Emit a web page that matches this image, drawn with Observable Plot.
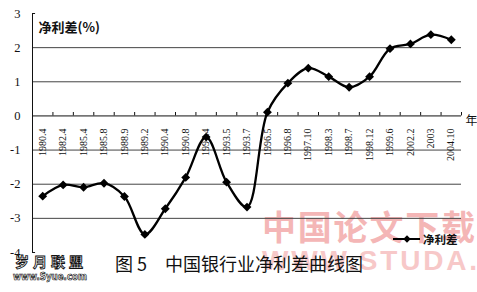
<!DOCTYPE html>
<html>
<head>
<meta charset="utf-8">
<script src="https://cdn.jsdelivr.net/npm/d3@7"></script>
<script src="https://cdn.jsdelivr.net/npm/@observablehq/plot@0.6"></script>
<style>
  html, body { margin: 0; padding: 0; background: #fff; }
  svg { display: block; }
</style>
</head>
<body>
<div id="chart"></div>
<script>
// ---- data ----
const categories = ["1980.4","1982.4","1985.4","1985.8","1988.9","1989.2","1990.4","1990.8","1991.4","1993.5","1993.7",
  "1996.5","1996.8","1997.10","1998.3","1998.7","1998.12","1999.6","2002.2","2003","2004.10"];
const netSpread = [-2.35,-2.02,-2.09,-1.97,-2.36,-3.47,-2.72,-1.80,-0.62,-1.94,-2.67,
  0.11,0.96,1.40,1.15,0.84,1.15,1.97,2.11,2.38,2.23];
const yTicks = [3,2,1,0,-1,-2,-3,-4];
const gridValues = [2,1,-1,-2,-3];
const stubValues = [3,-4];
const seriesName = "净利差";
const yTitle = "净利差(%)";
const xUnit = "年";
const caption = "图 5\u3000中国银行业净利差曲线图";

const rows = categories.map((c, i) => ({i, c, v: netSpread[i]}));
const boundaries = categories.map((c, i) => i + 0.5);
const cjk = "Noto Sans CJK SC";
const serif = "Liberation Serif";

const chart = Plot.plot({
  width: 477, height: 292,
  marginLeft: 32, marginRight: 16, marginTop: 13, marginBottom: 40,
  style: {background: "#fff", color: "#111"},
  x: {type: "linear", domain: [-0.5, categories.length - 0.5], axis: null},
  y: {domain: [-4, 3], axis: null},
  marks: [
    Plot.ruleY(gridValues, {stroke: "#444", strokeWidth: 1}),
    Plot.ruleY([0], {stroke: "#111", strokeWidth: 1}),
    Plot.ruleX([-0.5], {y1: -4, y2: 3, stroke: "#111", strokeWidth: 1}),
    Plot.ruleY(stubValues, {x1: -0.5, x2: -0.35, stroke: "#111"}),
    Plot.ruleX(boundaries, {y1: 0, y2: 0.1, stroke: "#111"}),
    Plot.axisY({ticks: yTicks, tickSize: 0, tickPadding: 12, label: null, tickFormat: d => String(d), fontSize: 12.5, fontFamily: serif, ariaLabel: "y-axis"}),
    Plot.text(rows, {x: "i", y: 0, text: "c", rotate: -90, textAnchor: "end", dy: 12.5, fontSize: 10, fontFamily: serif, fill: "#111"}),
    Plot.line(rows, {x: "i", y: "v", curve: "catmull-rom", stroke: "#000", strokeWidth: 2.3}),
    Plot.dot(rows, {x: "i", y: "v", symbol: "diamond2", r: 4, fill: "#000", stroke: "none"}),
    Plot.text([yTitle], {frameAnchor: "top-left", dx: 6, dy: 9, textAnchor: "start", fontWeight: "bold", fontSize: 13, fontFamily: cjk, fill: "#111"}),
    Plot.text([xUnit], {x: categories.length - 0.5, y: 0, dx: 4, dy: 5, textAnchor: "start", fontSize: 12, fontFamily: cjk, fill: "#111"}),
    Plot.text([caption], {frameAnchor: "bottom", dx: -8, dy: 18, fontSize: 18, fontFamily: cjk, fill: "#111"})
  ]
});

document.getElementById("chart").appendChild(chart);

const svg = d3.select(chart);
// serif digits on the y axis
svg.selectAll("g[aria-label^='y-axis'] text").attr("font-family", serif).style("font-family", serif);

// ---- watermarks (behind chart) and legend ----
const wm = svg.insert("g", ":first-child").attr("text-anchor", "start");
wm.append("text").text("中国论文下载")
  .attr("x", 262).attr("y", 225).attr("dominant-baseline", "central")
  .attr("textLength", 213).attr("lengthAdjust", "spacing")
  .attr("font-family", cjk).attr("font-weight", "bold").attr("font-size", 34)
  .attr("fill", "#f4b6b6");
wm.append("text").text("WWW.STUDA.")
  .attr("x", 262).attr("y", 270)
  .attr("textLength", 215).attr("lengthAdjust", "spacing")
  .attr("font-family", "Liberation Sans").attr("font-weight", "bold").attr("font-size", 28)
  .attr("fill", "#f7c8c8");
wm.append("text").text("岁月联盟")
  .attr("x", 15).attr("y", 261).attr("dominant-baseline", "central")
  .attr("textLength", 68).attr("lengthAdjust", "spacing")
  .attr("font-family", cjk).attr("font-weight", "bold").attr("font-size", 14)
  .attr("fill", "#fff").attr("stroke", "#111").attr("stroke-width", 0.9);
wm.append("text").text("www.Syue.com")
  .attr("x", 13).attr("y", 276).attr("dominant-baseline", "central")
  .attr("textLength", 74).attr("lengthAdjust", "spacingAndGlyphs")
  .attr("font-family", "DejaVu Sans").attr("font-weight", "bold").attr("font-size", 10)
  .attr("fill", "#fff").attr("stroke", "#111").attr("stroke-width", 0.7);

const lg = svg.append("g").attr("text-anchor", "start");
lg.append("line").attr("x1", 393).attr("x2", 420).attr("y1", 239).attr("y2", 239)
  .attr("stroke", "#000").attr("stroke-width", 2);
lg.append("path").attr("d", d3.symbol(d3.symbolDiamond2, 36)()).attr("transform", "translate(407,239)").attr("fill", "#000");
lg.append("text").text(seriesName).attr("x", 423).attr("y", 239).attr("dominant-baseline", "central")
  .attr("font-family", cjk).attr("font-weight", "bold").attr("font-size", 11.5).attr("fill", "#111");
</script>
</body>
</html>
